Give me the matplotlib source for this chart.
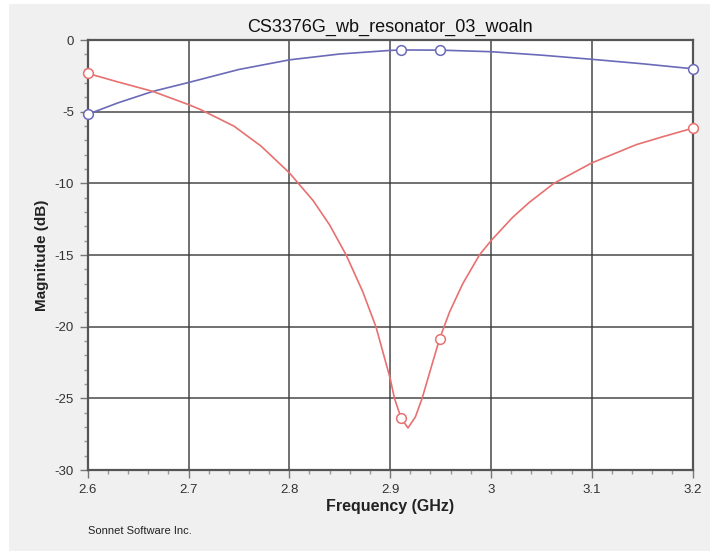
import matplotlib.pyplot as plt
from matplotlib.patches import Rectangle
from matplotlib.ticker import MultipleLocator

# ==========================================================
# Data
# ==========================================================

freq_s11 = [2.6, 2.63, 2.6646, 2.7, 2.712, 2.745, 2.772, 2.8, 2.8236, 2.84,
            2.8564, 2.8728, 2.8859, 2.9, 2.9043, 2.911, 2.9177, 2.925, 2.9317,
            2.94, 2.949, 2.959, 2.972, 2.9885, 3.0, 3.0213, 3.0377, 3.0623,
            3.1, 3.144, 3.17, 3.2]
db_s11 = [-2.32, -2.92, -3.58, -4.5, -4.85, -6.0, -7.4, -9.26, -11.2, -12.9,
          -15.0, -17.55, -20.0, -23.6, -25.0, -26.4, -27.06, -26.3, -25.0,
          -23.0, -20.85, -18.96, -17.0, -15.0, -14.0, -12.38, -11.34, -10.0,
          -8.57, -7.3, -6.75, -6.15]
s11_marks = [0, 15, 20, 31]

freq_s21 = [2.6, 2.63, 2.6646, 2.7, 2.75, 2.8, 2.85, 2.9, 2.911, 2.949,
            3.0, 3.05, 3.1, 3.15, 3.2]
db_s21 = [-5.18, -4.38, -3.58, -2.96, -2.05, -1.38, -0.97, -0.72, -0.69,
          -0.7, -0.81, -1.05, -1.34, -1.65, -2.0]
s21_marks = [0, 8, 9, 14]

x_ticks = [2.6, 2.7, 2.8, 2.9, 3.0, 3.1, 3.2]
x_labels = ["2.6", "2.7", "2.8", "2.9", "3", "3.1", "3.2"]
y_ticks = [0, -5, -10, -15, -20, -25, -30]
y_labels = ["0", "-5", "-10", "-15", "-20", "-25", "-30"]

# ==========================================================
# Figure
# ==========================================================

plt.rcParams["font.family"] = ["Liberation Sans", "DejaVu Sans"]

fig = plt.figure(figsize=(7.1, 5.53), dpi=100, facecolor="white")
fig.patches.append(Rectangle((0.012, 0.004), 0.988, 0.988,
                             transform=fig.transFigure, facecolor="#f0f0f0",
                             edgecolor="none", zorder=-5))

ax = fig.add_axes([0.1235, 0.150, 0.852, 0.7775])
ax.set_facecolor("white")

ax.plot(freq_s21, db_s21, color="#6a6ab8", lw=1.2, marker="o",
        markevery=s21_marks, ms=7, mfc="white", mec="#6a6ab8", mew=1.1,
        clip_on=False, zorder=3)
ax.plot(freq_s11, db_s11, color="#e87070", lw=1.2, marker="o",
        markevery=s11_marks, ms=7, mfc="white", mec="#e87070", mew=1.1,
        clip_on=False, zorder=3)

ax.set_xlim(2.6, 3.2)
ax.set_ylim(-30, 0)
ax.set_xticks(x_ticks)
ax.set_xticklabels(x_labels)
ax.set_yticks(y_ticks)
ax.set_yticklabels(y_labels)
ax.xaxis.set_minor_locator(MultipleLocator(0.02))
ax.yaxis.set_minor_locator(MultipleLocator(1))

ax.grid(True, which="major", color="#3a3a3a", lw=1.2, alpha=0.85)
ax.set_axisbelow(True)
for sp in ax.spines.values():
    sp.set_color("#555555")
    sp.set_linewidth(1.6)

ax.tick_params(which="major", direction="out", length=6, width=1,
               color="#777777", labelsize=9.5, labelcolor="#333333", pad=4)
ax.tick_params(which="minor", direction="out", length=3, width=1,
               color="#999999")

ax.set_title("CS3376G_wb_resonator_03_woaln", fontsize=13, color="#111111",
             pad=6)
ax.set_xlabel("Frequency (GHz)", fontsize=11.5, fontweight="bold",
              color="#222222", labelpad=2)
ax.set_ylabel("Magnitude (dB)", fontsize=11, fontweight="bold",
              color="#222222", labelpad=4)

fig.text(0.124, 0.034, "Sonnet Software Inc.", fontsize=8, color="#222222")

fig.savefig("out.png", dpi=100, facecolor=fig.get_facecolor())
